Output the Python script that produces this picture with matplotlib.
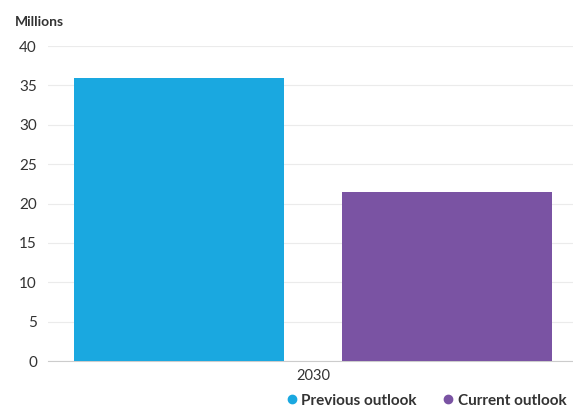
import numpy as np
import matplotlib.pyplot as plt

# data
categories = ["2030"]
series = ["Previous outlook", "Current outlook"]
values = [36.0, 21.5]
colors = ["#1aa8e0", "#7a53a3"]
y_ticks = [0, 5, 10, 15, 20, 25, 30, 35, 40]

plt.rcParams['font.family'] = ['Lato', 'DejaVu Sans']

fig = plt.figure(figsize=(5.73, 4.09), dpi=100)
ax = fig.add_axes([0.084, 0.117, 0.916, 0.7705])

offsets = [-0.25, 0.26]
width = 0.40
for i, (name, v) in enumerate(zip(series, values)):
    ax.bar(0 + offsets[i], v, width=width, color=colors[i], label=name, zorder=3)

ax.set_xlim(-0.5, 0.5)
ax.set_ylim(0, 40)
ax.set_yticks(y_ticks)
ax.set_xticks([0.005])
ax.set_xticklabels(categories)
ax.tick_params(axis='y', length=0, labelsize=11, colors='#333333', pad=8)
ax.tick_params(axis='x', length=0, labelsize=10.5, colors='#333333', pad=6)
ax.grid(axis='y', color='#ebebeb', linewidth=0.8, zorder=0)
for s in ['top', 'right', 'left']:
    ax.spines[s].set_visible(False)
ax.spines['bottom'].set_color('#cccccc')

fig.text(0.026, 0.945, "Millions", fontsize=10, fontweight='bold', color='#333333', va='center')

handles = [plt.Line2D([], [], marker='o', linestyle='', color=c, markersize=6) for c in colors]
leg = fig.legend(handles, series, loc='center right', bbox_to_anchor=(1.012, 0.02),
                 ncol=2, frameon=False, fontsize=11, handletextpad=0.1,
                 columnspacing=1.6, handlelength=1.0)
for t in leg.get_texts():
    t.set_color('#333333')
    t.set_fontweight('bold')

fig.savefig("out.png", dpi=100)
